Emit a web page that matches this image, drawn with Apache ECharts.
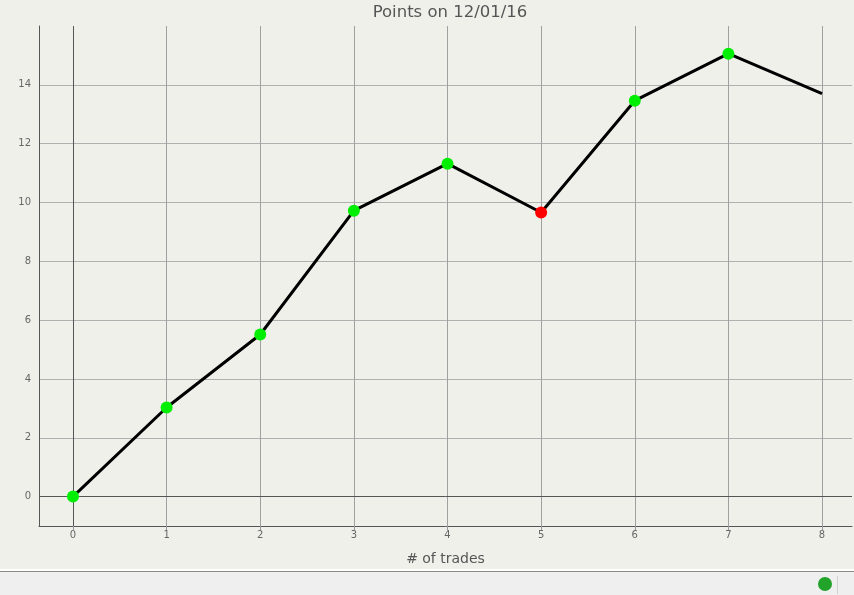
<!DOCTYPE html>
<html><head><meta charset="utf-8">
<script src="https://cdn.jsdelivr.net/npm/echarts@6/dist/echarts.min.js"></script>
<style>html,body{margin:0;padding:0;background:#f0f0eb;}#c{width:854px;height:595px;}</style>
</head><body><div id="c"></div>
<script>
const titleText = 'Points on 12/01/16';
const xName = '# of trades';
const trades = [0, 1, 2, 3, 4, 5, 6, 7, 8];
const points = [0, 3.03, 5.51, 9.72, 11.32, 9.66, 13.46, 15.06, 13.70];
const xTicks = [0, 1, 2, 3, 4, 5, 6, 7, 8];
const yTicks = [0, 2, 4, 6, 8, 10, 12, 14];

const data = points.map((v, i) => {
  const last = i === points.length - 1;
  const down = i > 0 && v < points[i - 1];
  return {
    value: [trades[i], v],
    symbol: last ? 'none' : 'circle',
    itemStyle: { color: down ? '#ff0000' : '#00ee00' }
  };
});

const chart = echarts.init(document.getElementById('c'));
chart.setOption({
  backgroundColor: '#f0f0eb',
  animation: false,
  title: {
    text: titleText, left: 445, textAlign: 'center', top: -1,
    textStyle: { fontFamily: 'DejaVu Sans', fontSize: 16.5, fontWeight: 'normal', color: '#555' }
  },
  grid: { left: 39, top: 26, right: 2, bottom: 69 },
  xAxis: {
    type: 'value', min: -0.363, max: 8.32,
    name: xName, nameLocation: 'middle', nameGap: 26,
    nameTextStyle: { fontFamily: 'DejaVu Sans', fontSize: 14, color: '#555' },
    axisLine: { onZero: false, lineStyle: { color: '#555', width: 1 } },
    axisTick: { show: true, length: 4, inside: false, customValues: xTicks, lineStyle: { color: '#999' } },
    axisLabel: { customValues: xTicks, fontFamily: 'DejaVu Sans', fontSize: 10, color: '#666', margin: 4 },
    splitLine: { show: true, lineStyle: { color: '#a0a0a0', width: 1 } }
  },
  yAxis: {
    type: 'value', min: -1, max: 16,
    axisLine: { show: true, onZero: false, lineStyle: { color: '#555', width: 1 } },
    axisTick: { show: false, customValues: yTicks },
    axisLabel: { customValues: yTicks, fontFamily: 'DejaVu Sans', fontSize: 10, color: '#666', margin: 8 },
    splitLine: { show: true, lineStyle: { color: '#b0b0b0', width: 1 } }
  },
  graphic: [
    { type: 'rect', shape: { x: 0, y: 569, width: 854, height: 26 }, style: { fill: '#efefef' }, silent: true },
    { type: 'rect', shape: { x: 0, y: 569, width: 854, height: 2 }, style: { fill: '#ffffff' }, silent: true },
    { type: 'rect', shape: { x: 0, y: 571, width: 854, height: 1 }, style: { fill: '#8a8a8a' }, silent: true },
    { type: 'rect', shape: { x: 837, y: 576, width: 1, height: 18 }, style: { fill: '#d0d0d0' }, silent: true },
    { type: 'circle', shape: { cx: 825, cy: 584, r: 7 }, style: { fill: '#22a32a' }, silent: true }
  ],
  series: [{
    type: 'line', data: data, symbolSize: 12,
    lineStyle: { color: '#000', width: 3 },
    z: 5,
    markLine: {
      silent: true, symbol: 'none', label: { show: false },
      lineStyle: { color: '#555', width: 1, type: 'solid' },
      data: [{ xAxis: 0 }, { yAxis: 0 }],
      z: 1
    }
  }]
});
</script></body></html>
